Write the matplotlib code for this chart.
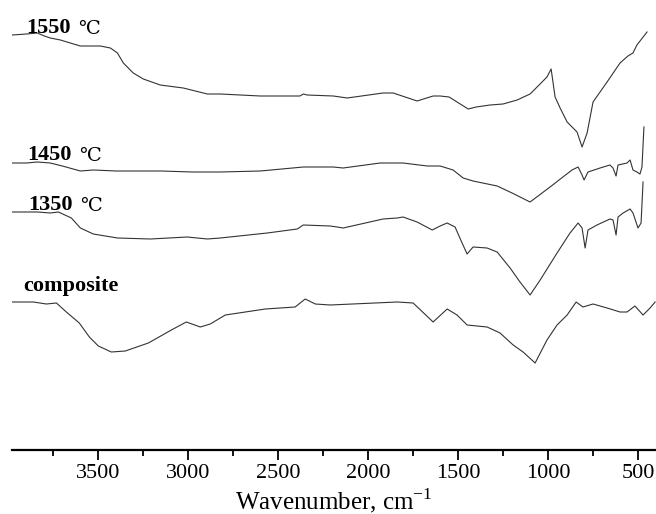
import numpy as np
import matplotlib
matplotlib.use("Agg")
import matplotlib.pyplot as plt
from matplotlib.ticker import MultipleLocator

plt.rcParams['font.family'] = ['Liberation Serif', 'DejaVu Serif', 'Noto Sans CJK SC']
plt.rcParams['mathtext.fontset'] = 'custom'
plt.rcParams['mathtext.rm'] = 'Liberation Serif'

# Offset signal (a.u., larger = lower on plot)
wn_1550 = [3978, 3900, 3839, 3800, 3767, 3711, 3656, 3600, 3489, 3433, 3394, 3361, 3306, 3250,
           3156, 3028, 2894, 2822, 2600, 2380, 2360, 2340, 2194, 2117, 1917, 1861, 1728, 1639,
           1600, 1550, 1506, 1444, 1400, 1322, 1250, 1172, 1100, 1061, 1006, 983, 961, 933,
           894, 839, 811, 783, 750, 672, 600, 556, 528, 506, 450]
s_1550 = [35, 34, 33, 36, 38, 40, 43, 46, 46, 48, 53, 63, 73, 79,
          85, 88, 94, 94, 96, 96, 94, 95, 96, 98, 93, 93, 101, 96,
          96, 97, 102, 109, 107, 105, 104, 100, 94, 87, 77, 69, 97, 108,
          122, 132, 147, 133, 102, 82, 63, 56, 53, 45, 32]

wn_1450 = [3978, 3900, 3839, 3767, 3700, 3640, 3600, 3528, 3400, 3150, 2978, 2822, 2600, 2420,
           2361, 2194, 2139, 1933, 1806, 1672, 1600, 1528, 1472, 1417, 1283, 1200, 1100, 989,
           867, 833, 811, 800, 778, 711, 656, 639, 622, 611, 561, 544, 528, 506, 489, 478, 467]
s_1450 = [163, 163, 162, 163, 166, 169, 171, 170, 171, 171, 172, 172, 171, 168,
          167, 167, 168, 163, 163, 166, 166, 170, 178, 181, 186, 193, 202, 187,
          170, 167, 175, 180, 172, 168, 165, 168, 176, 165, 163, 160, 170, 172, 174, 167, 127]

wn_1350 = [3978, 3839, 3767, 3722, 3650, 3600, 3528, 3394, 3211, 3006, 2894, 2822, 2561, 2394,
           2361, 2211, 2172, 2139, 1917, 1839, 1806, 1728, 1644, 1600, 1561, 1517, 1478, 1450,
           1417, 1339, 1283, 1211, 1156, 1100, 1044, 950, 878, 833, 811, 794, 778, 728, 656,
           639, 622, 611, 583, 544, 528, 500, 483, 472]
s_1350 = [212, 212, 213, 212, 218, 228, 234, 238, 239, 237, 239, 238, 233, 229,
          225, 226, 227, 228, 219, 218, 217, 222, 230, 226, 223, 227, 243, 254,
          247, 248, 252, 268, 282, 295, 280, 253, 233, 223, 228, 248, 230, 225, 219,
          220, 235, 217, 213, 209, 213, 228, 223, 182]

wn_comp = [3978, 3861, 3789, 3733, 3678, 3606, 3550, 3500, 3428, 3350, 3222, 3094, 3011, 2933,
           2878, 2794, 2572, 2406, 2350, 2294, 2211, 1839, 1750, 1639, 1561, 1506, 1450, 1339,
           1267, 1194, 1139, 1072, 1006, 950, 894, 844, 806, 750, 672, 600, 561, 517, 472,
           433, 405]
s_comp = [302, 302, 304, 303, 312, 323, 337, 346, 352, 351, 343, 330, 322, 327,
          324, 315, 309, 307, 299, 304, 305, 302, 303, 322, 309, 315, 325, 327,
          333, 345, 352, 363, 340, 325, 315, 302, 307, 304, 308, 312, 312, 306, 315,
          308, 302]

series = [(wn_1550, s_1550), (wn_1450, s_1450), (wn_1350, s_1350), (wn_comp, s_comp)]
label_main = ['1550', '1450', '1350', 'composite']
label_unit = ['℃', '℃', '℃', '']
label_x = [3900, 3894, 3889, 3917]
label_y = [33, 160, 210, 291]

fig = plt.figure(figsize=(6.56, 5.14), dpi=100)
ax = fig.add_axes([12 / 656, 64 / 514, 1 - 12 / 656, 450 / 514])

for wn, s in series:
    ax.plot(wn, s, color='#333333', lw=0.8)

for t, u, x, y in zip(label_main, label_unit, label_x, label_y):
    txt = ax.text(x, y, t, fontsize=16, fontweight='bold', ha='left', va='baseline')
    if u:
        ax.annotate(u, xy=(1, 0), xycoords=txt, xytext=(5, 0), textcoords='offset points',
                    fontsize=14, fontweight='normal', ha='left', va='bottom',
                    family=['DejaVu Serif', 'Noto Sans CJK SC'])

ax.set_xlim(3980, 400)
ax.set_ylim(450, 0)
for sp in ['top', 'right', 'left']:
    ax.spines[sp].set_visible(False)
ax.spines['bottom'].set_linewidth(1.6)
ax.set_yticks([])
ax.xaxis.set_major_locator(MultipleLocator(500))
ax.xaxis.set_minor_locator(MultipleLocator(250))
ax.tick_params(axis='x', which='major', direction='out', length=7, width=1.3, labelsize=16, pad=3)
ax.tick_params(axis='x', which='minor', direction='out', length=4, width=1.3)
ax.set_xlabel('Wavenumber, cm$^{\\mathregular{-1}}$', fontsize=18)
ax.xaxis.label.set_va('baseline')
ax.xaxis.set_label_coords(0.5, (5 - 64) / 450)

fig.savefig('out.png', dpi=100)
